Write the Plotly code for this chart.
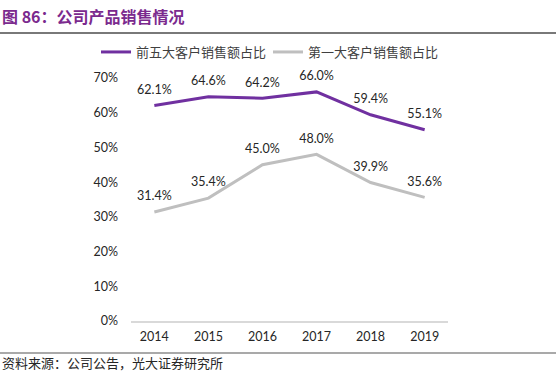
import plotly.graph_objects as go

years = ["2014", "2015", "2016", "2017", "2018", "2019"]
top5_share = [0.621, 0.646, 0.642, 0.660, 0.594, 0.551]
top1_share = [0.314, 0.354, 0.450, 0.480, 0.399, 0.356]
series_names = ["前五大客户销售额占比", "第一大客户销售额占比"]
y_ticks = [0, 0.1, 0.2, 0.3, 0.4, 0.5, 0.6, 0.7]
y_tick_labels = ["0%", "10%", "20%", "30%", "40%", "50%", "60%", "70%"]
title_text = "图 86：公司产品销售情况"
source_text = "资料来源：公司公告，光大证券研究所"

W, H = 556, 372
L, R, T, B = 131, 108, 78, 51
PW, PH = W - L - R, H - T - B

def px_x(p):
    return (p - L) / PW

def px_y(p):
    return (H - B - p) / PH

num_font = dict(family="Lato, 'Noto Sans CJK SC', sans-serif", size=12.5, color="#262626")
cjk = "'Noto Sans CJK SC', sans-serif"

fig = go.Figure()
for name, vals, color, lg in [(series_names[0], top5_share, "#7030A0", "legend"),
                              (series_names[1], top1_share, "#BFBFBF", "legend2")]:
    fig.add_trace(go.Scatter(
        x=years, y=vals, name=name, mode="lines+markers+text",
        line=dict(color=color, width=3),
        marker=dict(size=12, color="rgba(0,0,0,0)", line=dict(width=0)),
        text=[f"{v*100:.1f}%" for v in vals], textposition="top center",
        textfont=num_font, cliponaxis=False, legend=lg,
    ))

leg_common = dict(orientation="h", yanchor="middle", y=px_y(52), xanchor="left",
                  font=dict(family=cjk, size=13, color="#404040"),
                  itemwidth=30, bgcolor="rgba(0,0,0,0)", borderwidth=0)

fig.update_layout(
    width=W, height=H,
    margin=dict(l=L, r=R, t=T, b=B, pad=0, autoexpand=False),
    paper_bgcolor="white", plot_bgcolor="white",
    showlegend=True,
    legend=dict(x=px_x(96), **leg_common),
    legend2=dict(x=px_x(268), **leg_common),
    xaxis=dict(type="category", showgrid=False, showline=True, linecolor="#D9D9D9", linewidth=1.5,
               ticks="", tickfont=num_font, fixedrange=True, ticklabelstandoff=3),
    yaxis=dict(range=[0, 0.7], tickvals=y_ticks, ticktext=y_tick_labels, showgrid=False,
               zeroline=False, showline=False, ticks="", tickfont=num_font, ticklabelstandoff=12),
    annotations=[
        dict(text=f"<b>{title_text}</b>", xref="paper", yref="paper", x=px_x(0), y=px_y(16),
             xanchor="left", yanchor="middle", showarrow=False,
             font=dict(family=cjk, size=16, color="#7B2A8E")),
        dict(text=source_text, xref="paper", yref="paper", x=px_x(0), y=px_y(362.5),
             xanchor="left", yanchor="middle", showarrow=False,
             font=dict(family=cjk, size=13, color="#262626")),
    ],
    shapes=[
        dict(type="line", xref="paper", yref="paper", x0=px_x(0), x1=px_x(W), y0=px_y(33), y1=px_y(33),
             line=dict(color="#4D4D4D", width=1.5)),
        dict(type="line", xref="paper", yref="paper", x0=px_x(0), x1=px_x(W), y0=px_y(353), y1=px_y(353),
             line=dict(color="#8C8C8C", width=1.5)),
    ],
)

fig.write_html("out.html", config={"displayModeBar": False},
               post_script="document.body.style.margin='0';document.body.style.overflow='hidden';")
